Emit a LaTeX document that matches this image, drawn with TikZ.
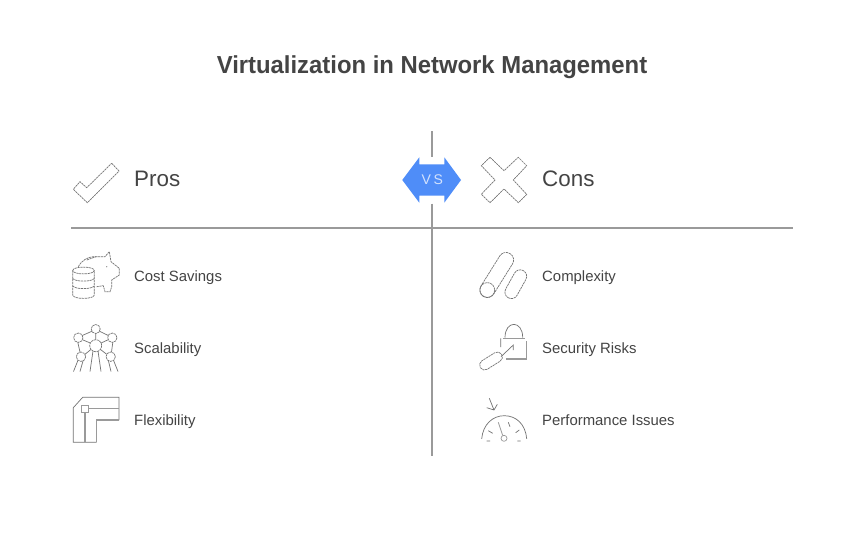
\documentclass[tikz,border=0pt]{standalone}
\usepackage{fontspec}
\setmainfont{Liberation Sans}
\newfontfamily\titlefont[FakeStretch=0.97]{Liberation Sans Bold}
\definecolor{ink}{HTML}{444444}
\definecolor{rulec}{HTML}{9A9A9A}
\definecolor{bluev}{HTML}{4F8DF8}
\tikzset{
  rulel/.style={draw=rulec,line width=1.4pt},
  icon/.style={draw=ink!75,line width=0.7pt},
  dashicon/.style={icon,dash pattern=on 2.2pt off 0.7pt},
  softicon/.style={draw=rulec,line width=1.1pt},
  head/.style={anchor=base west,inner sep=0,text=ink,font=\fontsize{22.4}{26}\selectfont},
  item/.style={anchor=base west,inner sep=0,text=ink,font=\fontsize{14.9}{17}\selectfont}
}
\begin{document}
\begin{tikzpicture}[x=1pt,y=-1pt]
\useasboundingbox[fill=white] (0,0) rectangle (864,541);
\node[anchor=base,inner sep=0,text=ink,font=\titlefont\fontsize{24.6}{29}\selectfont] (title) at (432,73.2) {Virtualization in Network Management};
% rules
\draw[rulel] (71,228) -- (793,228);
\draw[rulel] (432,131) -- (432,156.5);
\draw[rulel] (432,203.5) -- (432,456);
% VS
\fill[bluev] (402.3,180) -- (419.3,157.3) -- (419.3,164.3) -- (444.3,164.3) -- (444.3,157.3) -- (461,180) -- (444.3,202.7) -- (444.3,195.7) -- (419.3,195.7) -- (419.3,202.7) -- cycle;
\node[inner sep=0,text=white!75!bluev,font=\fontsize{14}{17}\selectfont] (vs) at (432.3,180) {V\kern2.5pt S};
% check
\draw[dashicon] (111.7,163.3) -- (119,171) -- (87.3,202.7) -- (73.3,189.3) -- (80,181.7) -- (86.7,187.7) -- cycle;
% cross
\draw[dashicon] (490,157.3) -- (504,170.7) -- (518.3,157.3) -- (526.7,165.7) -- (513.3,180) -- (526.7,194.3) -- (518.3,202.7) -- (504,189) -- (490,202.7) -- (481.3,194.3) -- (495,180) -- (481.3,165.7) -- cycle;
\node[head] (pros) at (134,186.2) {Pros};
\node[head] (cons) at (542,186.2) {Cons};
\node[item] (i1) at (134,281) {Cost Savings};
\node[item] (i2) at (134,353) {Scalability};
\node[item] (i3) at (134,425) {Flexibility};
\node[item] (i4) at (542,281) {Complexity};
\node[item] (i5) at (542,353) {Security Risks};
\node[item] (i6) at (542,425) {Performance Issues};
% piggy bank
\draw[dashicon] (72.7,270.5) -- (72.7,295) .. controls (73,299.5) and (94,299.5) .. (94.3,295) -- (94.3,270.5);
\draw[dashicon] (72.7,270.5) .. controls (73,266) and (94,266) .. (94.3,270.5) .. controls (94,275) and (73,275) .. (72.7,270.5);
\draw[dashicon] (72.7,278.5) .. controls (76,282) and (91,282) .. (94.3,278.5);
\draw[dashicon] (72.7,286) .. controls (76,289.5) and (91,289.5) .. (94.3,286);
\draw[dashicon] (78.3,266.7) .. controls (82,260) and (88,257) .. (93.3,256.7) -- (105,256.7) -- (109.3,251.7) -- (111,261.7) -- (119.3,268.3) -- (119.3,275) -- (111.7,280) -- (111.7,286.7) -- (110,291.7) -- (105,291.7) -- (103.3,285.7) -- (96.7,286.7);
\draw[dashicon] (86.7,260) -- (96,256.7);
\fill[ink!70] (106.7,266.7) circle (0.6);
% atomium
\foreach \cx/\cy/\r in {95.7/329/4.5,78.3/337.7/4.7,112.3/337.7/4.7,95.7/345.7/6,81/356.7/4.7,110.7/356.7/4.7}{
  \draw[dashicon] (\cx,\cy) circle (\r);
}
\draw[icon] (92,331.2) -- (82.3,335.5) (99.4,331.2) -- (108.3,335.5) (95.7,333.5) -- (95.7,339.7)
 (82.6,339.8) -- (90.3,343) (108,339.8) -- (101.1,343) (77.8,342.4) -- (80,352) (112.8,342.4) -- (111.5,352)
 (85,354.3) -- (91,349.4) (106.7,354.3) -- (100.4,349.4);
\draw[icon] (78,360.3) -- (73.5,371.5) (83,361) -- (80,371.5) (93,351) -- (90,371.5) (98,351) -- (101,371.5) (108.5,361) -- (111,371.5) (113.5,360.3) -- (118,371.5);
% flexibility
\draw[icon] (73.3,407.7) -- (82.7,397.3) -- (119,397.3) -- (119,420) (73.3,407.7) -- (73.3,442.3) -- (96.7,442.3);
\draw[softicon] (119,420) -- (96.7,420) -- (96.7,442.3);
\draw[softicon] (88.3,408.3) -- (119,408.3) (85,412.3) -- (85,442.3);
\draw[softicon,line width=0.9pt] (81.7,405.7) rectangle (88.3,412.3);
% complexity
\draw[dashicon,rounded corners=7.4pt,shift={(496.7,275)},rotate=58] (-25.2,-7.5) rectangle (25.2,7.5);
\draw[dashicon] (487.3,290) circle (7.4);
\draw[dashicon,rounded corners=6.4pt,shift={(515.8,284.2)},rotate=61] (-15.5,-6.5) rectangle (15.5,6.5);
% lock
\draw[softicon] (503,338.3) -- (524.5,338.3) (526.7,341) -- (526.7,359) -- (506,359);
\draw[icon] (500.7,338.3) -- (500.7,347) (505,337.5) .. controls (505,320) and (522.7,320) .. (522.7,337.5);
\draw[icon] (501,356.7) -- (513.3,345) -- (513.3,350);
\draw[dashicon,rounded corners=4.8pt,shift={(491,361)},rotate=32] (-12.5,-5) rectangle (12.5,5);
% gauge
\draw[icon] (481.7,438.8) .. controls (483,424) and (493,415.7) .. (504.3,415.7) .. controls (516,415.7) and (525.5,424) .. (526.7,438.8);
\draw[softicon,line width=0.8pt] (498.3,422.3) -- (502.7,435.5);
\draw[draw=rulec,line width=0.7pt] (504,438.3) circle (3);
\draw[icon] (488.3,430.7) -- (492.7,433.3) (508.3,422.3) -- (510,426.7) (515.7,432.7) -- (519.3,430) (486.7,441) -- (490,441) (517.3,441) -- (520.7,441);
\draw[icon] (489.3,398.3) -- (494,410) (486.7,407.7) -- (494,410) -- (497.3,404.3);
\end{tikzpicture}
\end{document}
